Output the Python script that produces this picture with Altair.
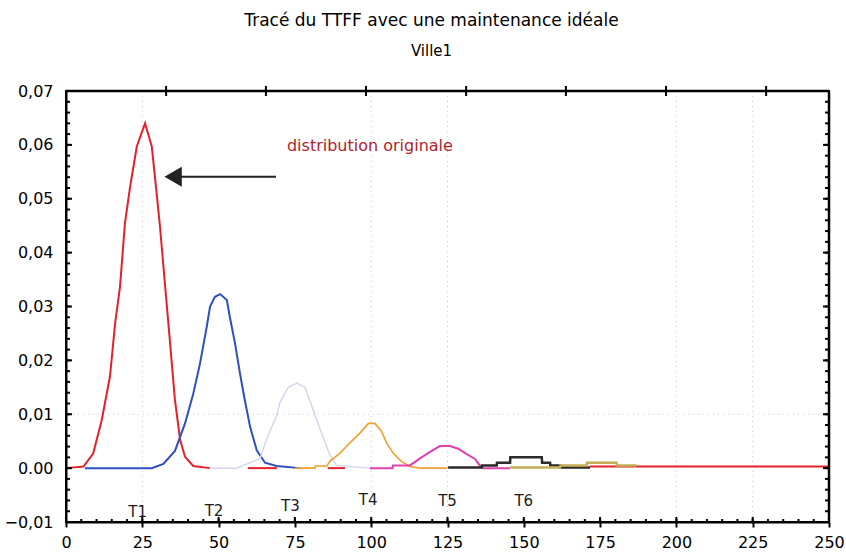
import altair as alt
import pandas as pd

# --- Plot area size (pixels) ---
W, H = 763, 431
X_DOMAIN = [0, 250]
Y_DOMAIN = [-0.01, 0.07]

# --- Density curves of the TTFF, one per maintenance cycle ---
t1_x = [0, 5.7, 8.9, 11.7, 14.4, 16.1, 17.7, 19.3, 21.0, 23.2, 25.9, 28.1, 29.7,
        30.8, 32.4, 34.1, 35.7, 37.4, 39.0, 41.7, 47.2]
t1_y = [0, 0.0003, 0.0027, 0.0089, 0.017, 0.0269, 0.0337, 0.0454, 0.0522, 0.0597,
        0.064, 0.0597, 0.051, 0.0448, 0.0343, 0.0232, 0.0126, 0.0052, 0.0021, 0.0004, 0]

# red baseline pieces of the original distribution
red_seg_x = [[59.6, 69.1], [85.8, 91.4], [171.7, 250]]
red_seg_y = [[0, 0], [0, 0], [0.0003, 0.0003]]

t2_x = [6.2, 28.1, 31.9, 35.7, 39.0, 41.7, 43.9, 46.1, 47.2, 48.8, 50.5, 52.7, 53.7,
        55.4, 57.0, 58.6, 60.3, 62.5, 65.2, 69.0, 76.7]
t2_y = [0, 0, 0.0008, 0.0032, 0.0083, 0.0138, 0.0194, 0.0262, 0.030, 0.0318, 0.0323,
        0.0312, 0.028, 0.0231, 0.0176, 0.0126, 0.0077, 0.0033, 0.001, 0.0004, 0]

t3_x = [47, 55.9, 60.3, 63.6, 65.8, 69.0, 70.1, 72.8, 75.6, 78.3, 80.5, 83.2, 86.5, 88.7, 99.6]
t3_y = [0, 0, 0.001, 0.0018, 0.0055, 0.0097, 0.0122, 0.015, 0.0158, 0.015, 0.0116,
        0.0073, 0.0024, 0.0005, 0]

t4_x = [75, 81.6, 81.7, 85.5, 86.5, 89.8, 93.0, 96.3, 99.1, 101.2, 103.4, 105.1, 107.3,
        110.0, 112.7, 116, 125]
t4_y = [0, 0, 0.0004, 0.0004, 0.0013, 0.0028, 0.0047, 0.0065, 0.0083, 0.0083, 0.0068,
        0.0046, 0.0027, 0.0012, 0.0003, 0, 0]

t5_x = [99.6, 107, 107.1, 112.7, 116, 119.3, 122.5, 125.8, 128.5, 131.3, 134, 135.7,
        136.6, 145.5]
t5_y = [0, 0, 0.0005, 0.0005, 0.0018, 0.003, 0.0041, 0.0041, 0.0036, 0.0026, 0.0017,
        0.0004, 0, 0]

t6_x = [125.2, 136.2, 136.3, 141.1, 141.2, 145.5, 145.6, 155.9, 156.0, 158.6, 158.7,
        161.9, 162.0, 171.7]
t6_y = [0.0001, 0.0001, 0.0005, 0.0005, 0.001, 0.001, 0.002, 0.002, 0.001, 0.001,
        0.0005, 0.0005, 0.0001, 0.0001]

t7_x = [145.5, 161.9, 162.0, 170.6, 170.7, 180.4, 180.5, 187]
t7_y = [0.0001, 0.0001, 0.0005, 0.0005, 0.001, 0.001, 0.0005, 0.0005]

# --- Annotations ---
cycle_labels = ["T1", "T2", "T3", "T4", "T5", "T6"]
cycle_label_x = [23.5, 48.5, 73.5, 99, 125, 150]
cycle_label_y = [-0.0081, -0.0079, -0.0070, -0.0059, -0.0061, -0.0061]

arrow_x = [68.8]
arrow_x2 = [35.1]
arrow_y = [0.0541]
note_text = ["distribution originale"]
note_x = [72.4]
note_y = [0.0598]

# --- Frame decorations ---
grid_x = [25, 100, 125, 200, 225]
grid_y = [0.01]
y_major = [round(-0.01 + 0.01 * i, 3) for i in range(9)]
y_minor = [round(-0.01 + 0.002 * i, 4) for i in range(41)]
x_major = [25 * i for i in range(11)]
x_minor = [5 * i for i in range(51)]
top_ticks = [32.8, 65.5, 98.3, 131.1, 163.8, 196.6, 229.4]

FONT = "DejaVu Sans"
xs = alt.Scale(domain=X_DOMAIN, nice=False, zero=False)
ys = alt.Scale(domain=Y_DOMAIN, nice=False, zero=False)

y_label_expr = ("abs(datum.value) < 1e-9 ? '0.00' : "
                "replace(format(datum.value, '.2f'), '.', ',')")

x_axis = alt.Axis(values=x_major, labelFont=FONT, labelFontSize=16, labelColor="black",
                  ticks=True, tickSize=5, tickWidth=2, tickColor="black",
                  labelPadding=7, domain=True, domainColor="black", domainWidth=2,
                  grid=False, title=None, labelFlush=False)
y_axis = alt.Axis(values=y_major, labelExpr=y_label_expr, labelFont=FONT,
                  labelFontSize=16, labelColor="black", ticks=False, tickSize=0,
                  labelPadding=13, domain=True, domainColor="black", domainWidth=2,
                  grid=False, title=None)


def X(field):
    return alt.X(field, scale=xs, axis=x_axis)


def Y(field):
    return alt.Y(field, scale=ys, axis=y_axis)


def curve_df(xv, yv, seg=0):
    return pd.DataFrame({"x": xv, "y": yv, "seg": seg, "i": range(len(xv))})


red_df = pd.concat(
    [curve_df(t1_x, t1_y, 0)]
    + [curve_df(sx, sy, k + 1) for k, (sx, sy) in enumerate(zip(red_seg_x, red_seg_y))]
)

curves = [
    (red_df, "#e5202c", 2.0),
    (curve_df(t2_x, t2_y), "#2f4fc0", 2.0),
    (curve_df(t3_x, t3_y), "#d6d6ee", 1.5),
    (curve_df(t4_x, t4_y), "#f0a030", 1.6),
    (curve_df(t5_x, t5_y), "#e040b0", 2.0),
    (curve_df(t6_x, t6_y), "#2a2a2a", 2.5),
    (curve_df(t7_x, t7_y), "#c4ad55", 2.5),
]

layers = []

# dotted grid
layers.append(
    alt.Chart(pd.DataFrame({"gx": grid_x})).mark_rule(
        color="#c4c4e4", strokeDash=[1, 4], strokeWidth=1
    ).encode(x=X("gx:Q"))
)
layers.append(
    alt.Chart(pd.DataFrame({"gy": grid_y})).mark_rule(
        color="#c4c4e4", strokeDash=[1, 4], strokeWidth=1
    ).encode(y=Y("gy:Q"))
)

# curves
for df, col, sw in curves:
    layers.append(
        alt.Chart(df).mark_line(color=col, strokeWidth=sw, interpolate="linear").encode(
            x=X("x:Q"), y=Y("y:Q"), detail="seg:N", order="i:Q",
        )
    )


# inward ticks and top/right edges of the frame
def hticks(vals, x0, x1, sw=2):
    return alt.Chart(pd.DataFrame({"v": vals})).mark_rule(color="black", strokeWidth=sw).encode(
        y=Y("v:Q"), x=alt.value(x0), x2=alt.value(x1))


def vticks(vals, y0, y1, sw=2):
    return alt.Chart(pd.DataFrame({"v": vals})).mark_rule(color="black", strokeWidth=sw).encode(
        x=X("v:Q"), y=alt.value(y0), y2=alt.value(y1))


layers += [
    hticks([Y_DOMAIN[1]], 0, W, 2.5),
    vticks([X_DOMAIN[1]], 0, H, 2.5),
    hticks(y_major, 0, 6), hticks(y_minor, 0, 4),
    hticks(y_major, W, W - 6), hticks(y_minor, W, W - 4),
    vticks(x_major, H, H - 5), vticks(x_minor, H, H - 3),
    vticks(top_ticks, -5, 5),
]

# arrow towards the original distribution
arrow_df = pd.DataFrame({"x": arrow_x, "x2": arrow_x2, "y": arrow_y})
layers.append(
    alt.Chart(arrow_df).mark_rule(color="#222222", strokeWidth=2).encode(
        x=X("x:Q"), x2="x2:Q", y=Y("y:Q"))
)
layers.append(
    alt.Chart(arrow_df).mark_point(shape="triangle-left", size=400, filled=True,
                                   color="#222222", opacity=1).encode(
        x=X("x2:Q"), y=Y("y:Q"))
)
layers.append(
    alt.Chart(pd.DataFrame({"x": note_x, "y": note_y, "t": note_text})).mark_text(
        align="left", baseline="middle", font=FONT, fontSize=16, color="#b0242c"
    ).encode(x=X("x:Q"), y=Y("y:Q"), text="t:N")
)

# cycle labels under the curves
layers.append(
    alt.Chart(pd.DataFrame({"x": cycle_label_x, "y": cycle_label_y, "t": cycle_labels})).mark_text(
        align="center", baseline="middle", font=FONT, fontSize=15, color="#1a1a1a"
    ).encode(x=X("x:Q"), y=Y("y:Q"), text="t:N")
)

chart = alt.layer(*layers).properties(
    width=W,
    height=H,
    background="white",
    autosize=alt.AutoSizeParams(type="none"),
    padding={"left": 66, "top": 91, "right": 17, "bottom": 34},
    title=alt.TitleParams(
        text="Tracé du TTFF avec une maintenance idéale",
        subtitle="Ville1",
        font=FONT, fontSize=17, fontWeight="normal", color="black",
        subtitleFont=FONT, subtitleFontSize=15, subtitleColor="black",
        anchor="middle", dx=-16, offset=23, subtitlePadding=14,
    ),
).configure_view(stroke="black", strokeWidth=2)

chart.save("out.html", embed_options={"renderer": "svg", "actions": False})
